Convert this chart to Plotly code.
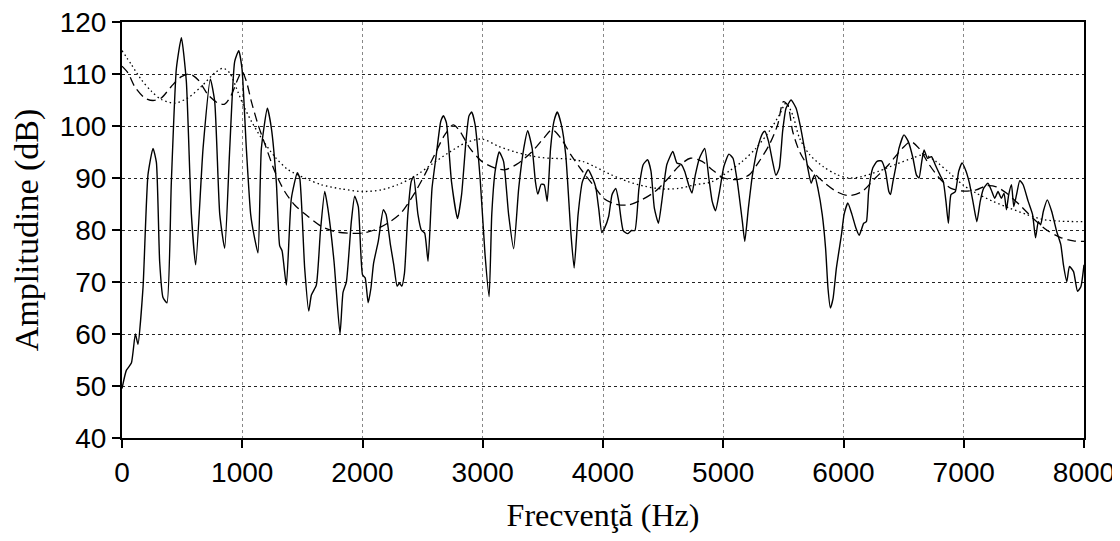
import plotly.graph_objects as go

# Spectrum (solid line)
spec_f = [0, 36, 78, 111, 133, 175, 216, 258, 286, 313, 341, 374, 410, 452, 494, 535, 577, 613,
          674, 735, 771, 813, 854, 896, 937, 971, 998, 1034, 1070, 1098, 1131, 1159, 1209, 1242,
          1284, 1311, 1331, 1367, 1408, 1458, 1478, 1519, 1553, 1575, 1616, 1650, 1686, 1713, 1763,
          1813, 1838, 1866, 1907, 1935, 1965, 2000, 2022, 2047, 2070, 2092, 2131, 2173, 2196, 2232,
          2260, 2288, 2307, 2327, 2349, 2377, 2405, 2425, 2461, 2489, 2517, 2545, 2578, 2614, 2651,
          2673, 2698, 2740, 2790, 2824, 2860, 2885, 2908, 2936, 2978, 3019, 3053, 3075, 3103, 3137,
          3173, 3215, 3257, 3299, 3341, 3374, 3411, 3438, 3458, 3486, 3511, 3536, 3564, 3592, 3620,
          3653, 3690, 3732, 3760, 3793, 3829, 3877, 3913, 3940, 3965, 3990, 4014, 4047, 4075, 4106,
          4131, 4168, 4204, 4237, 4265, 4299, 4335, 4371, 4399, 4427, 4461, 4489, 4531, 4581, 4614,
          4651, 4679, 4712, 4740, 4768, 4802, 4846, 4880, 4908, 4936, 4969, 5005, 5047, 5081, 5117,
          5159, 5179, 5209, 5243, 5285, 5327, 5346, 5377, 5410, 5438, 5466, 5494, 5522, 5564, 5606,
          5639, 5675, 5703, 5731, 5759, 5787, 5823, 5851, 5871, 5891, 5913, 5941, 5983, 6005, 6036,
          6070, 6103, 6131, 6168, 6190, 6209, 6243, 6279, 6316, 6349, 6377, 6391, 6411, 6433, 6461,
          6503, 6539, 6578, 6606, 6628, 6651, 6670, 6698, 6732, 6762, 6802, 6830, 6852, 6872, 6894,
          6930, 6958, 6986, 7019, 7047, 7081, 7109, 7137, 7165, 7201, 7229, 7257, 7285, 7313, 7335,
          7355, 7374, 7397, 7416, 7439, 7466, 7494, 7536, 7572, 7597, 7620, 7639, 7662, 7695, 7731,
          7773, 7807, 7829, 7857, 7879, 7913, 7946, 7974, 8000]
spec_db = [49.5, 53, 54.4, 60, 58, 69, 90.6, 95.7, 93, 74, 67, 66, 89, 111, 117, 108.6, 83, 73.3,
           95.7, 109, 104.7, 83, 76.5, 95.7, 112.4, 114.5, 111, 95.7, 83, 79, 75.6, 95.7, 103.4, 99.6,
           89, 77, 76, 69.4, 86, 91, 90, 72.7, 64.4, 67.5, 69.4, 79.7, 87.4, 84, 74,
           60, 68, 70, 81.6, 86.5, 84.5, 71.4, 70.8, 66, 68.8, 73.6, 77.8, 83.9, 83, 77.2,
           73.3, 69.2, 69.8, 69.2, 71.7, 83, 89.3, 90.3, 83, 80, 79.4, 74, 88, 94.5, 100.9,
           102, 100.6, 89.3, 82.2, 86.8, 97, 101.9, 102.7, 100.3, 90, 75.3, 67.2, 83, 91.3, 95,
           93.2, 83, 76.4, 88, 95.7, 99.1, 95.7, 89.3, 86.9, 88.8, 88.7, 85.5, 95.7, 100.9, 102.7,
           100.3, 94.5, 79.7, 72.7, 83, 89.3, 91.6, 90, 88.2, 84, 79.5, 80.4, 82.6, 86.8, 88,
           85.5, 79.9, 79.3, 79.9, 79.9, 88, 92.6, 93.5, 91.3, 84.2, 81.3, 85.5, 92.6, 95.1, 92.9,
           92.6, 91.3, 88.7, 87.1, 90.6, 93.8, 95.7, 90, 85.5, 83.7, 87.4, 92.2, 94.6, 93.8, 89.3,
           81.6, 77.8, 84.2, 90.6, 95.7, 98.6, 99, 97, 93.2, 90.5, 91.9, 99, 103.4, 105, 103.4,
           100.2, 95.7, 91.9, 89, 90.6, 88, 83, 76.5, 68.8, 65, 66.8, 72.7, 79.1, 83, 85.2,
           83, 80.4, 79, 81.3, 81.6, 87.4, 91.9, 93.2, 93.3, 91.3, 87.4, 86.8, 89.3, 91.9, 95.7,
           98.3, 97, 93.8, 90.6, 90, 93.2, 95.4, 93.8, 94.1, 92.6, 90.6, 89.3, 85.5, 81.3, 86.8,
           87.4, 91.3, 92.9, 91.3, 89, 84.9, 81.6, 85.5, 88, 89, 87.7, 86.1, 87.4, 86.1, 87.1,
           83.9, 86.8, 88.7, 84.5, 86.8, 89.5, 88.7, 85.5, 83, 78.5, 81.6, 81, 83.6, 85.8, 83.6,
           79.7, 77.2, 73.3, 70.1, 73, 72, 68.2, 69.1, 73.3]

# Envelope 1 (dashed line)
env1_f = [0, 50, 105, 189, 258, 327, 410, 494, 563, 632, 716, 799, 854, 910, 966, 998, 1034, 1076,
          1131, 1201, 1270, 1353, 1436, 1547, 1658, 1769, 1880, 2000, 2098, 2209, 2321, 2433, 2517,
          2600, 2684, 2754, 2810, 2894, 2992, 3103, 3187, 3299, 3411, 3508, 3578, 3648, 3732, 3829,
          3927, 4010, 4098, 4209, 4321, 4433, 4545, 4628, 4726, 4824, 4908, 5005, 5117, 5215, 5299,
          5383, 5452, 5500, 5536, 5578, 5634, 5718, 5830, 5941, 6042, 6154, 6265, 6377, 6489, 6559,
          6628, 6712, 6796, 6894, 6991, 7103, 7187, 7271, 7355, 7466, 7578, 7690, 7801, 7913, 8000]
env1_db = [111.5, 110.2, 107.6, 105.4, 104.9, 105.4, 107.6, 109.5, 110, 108.9, 106, 104.4, 104.2, 106,
           109.2, 110.5, 108.6, 104.7, 100.3, 95.7, 91.3, 87.4, 84.8, 82.6, 80.7, 79.7, 79.4, 79.4,
           80, 81.3, 83.3, 87.1, 90.6, 94.5, 98.3, 100.2, 99, 95.7, 93.2, 91.9, 91.6, 92.9, 95.1,
           97.7, 99.3, 97.7, 94.5, 91.3, 88.4, 86, 85, 84.8, 85.8, 87.4, 90, 92.2, 93.8, 93.2,
           91.6, 90, 89.7, 90.6, 93.2, 96.4, 100.2, 104.7, 104, 98.9, 95.1, 91.9, 89.3, 87.4, 86.6,
           87.4, 90, 92.6, 95.7, 97, 95.7, 92.6, 90, 88, 87.5, 87.7, 88.5, 88.3, 87.1, 84.8, 82.2,
           80, 78.6, 77.9, 77.8]

# Envelope 2 (dotted line)
env2_f = [0, 78, 161, 244, 327, 438, 549, 660, 771, 840, 896, 951, 1007, 1076, 1159, 1270, 1381,
          1519, 1658, 1825, 2000, 2154, 2293, 2433, 2573, 2712, 2852, 2992, 3131, 3271, 3411, 3550,
          3690, 3829, 3930, 4070, 4209, 4349, 4489, 4628, 4768, 4908, 5047, 5159, 5271, 5383, 5466,
          5522, 5578, 5634, 5718, 5830, 5941, 6042, 6154, 6293, 6433, 6572, 6670, 6768, 6880, 6991,
          7103, 7243, 7383, 7522, 7662, 7801, 8000]
env2_db = [114.5, 111.8, 108.9, 106.7, 105.1, 104.4, 105.4, 107.6, 110.2, 111.1, 110.2, 107.3, 104.1,
           100.9, 97.7, 94.1, 91.6, 90, 88.7, 87.9, 87.4, 87.7, 88.7, 90.3, 92.6, 94.8, 96.7, 97.5,
           96.1, 95, 94.2, 93.8, 93.7, 93.2, 92.2, 90.6, 89.3, 88.4, 87.9, 88, 88.7, 89.3, 91.3,
           93.2, 95.7, 99, 102.1, 104.4, 102.1, 97.7, 94.5, 92.2, 90.7, 90, 90.3, 91.3, 92.6, 93.8,
           94.5, 93.2, 91, 88.7, 87.1, 85.5, 84.2, 83, 82, 81.7, 81.6]

x_ticks = [0, 1000, 2000, 3000, 4000, 5000, 6000, 7000, 8000]
y_ticks = [40, 50, 60, 70, 80, 90, 100, 110, 120]

tick_font = dict(family="Liberation Sans, Arial, sans-serif", size=28, color="black")
title_font = "Liberation Serif, Times New Roman, serif"

fig = go.Figure()
fig.add_trace(go.Scatter(x=env2_f, y=env2_db, mode="lines",
                         line=dict(color="black", width=1.3, dash="1.5px,3px", shape="spline", smoothing=0.8)))
fig.add_trace(go.Scatter(x=env1_f, y=env1_db, mode="lines",
                         line=dict(color="black", width=1.3, dash="9px,5px", shape="spline", smoothing=0.8)))
fig.add_trace(go.Scatter(x=spec_f, y=spec_db, mode="lines",
                         line=dict(color="black", width=1.4, shape="spline", smoothing=0.5)))

fig.update_layout(
    width=1120, height=541,
    margin=dict(l=114, r=44, t=14, b=111, autoexpand=False),
    paper_bgcolor="white", plot_bgcolor="white",
    showlegend=False,
)
fig.update_xaxes(
    range=[0, 8000], tickvals=x_ticks, ticktext=[str(v) for v in x_ticks],
    showline=True, linecolor="black", linewidth=2, mirror=True,
    ticks="outside", ticklen=8, tickwidth=2, tickcolor="black",
    showgrid=True, gridcolor="#888888", gridwidth=1, griddash="dot",
    zeroline=False, tickfont=tick_font, automargin=False, ticklabeloverflow="allow",
    title=dict(text="Frecvenţă (Hz)", font=dict(family=title_font, size=32, color="black"), standoff=17),
)
fig.update_yaxes(
    range=[40, 120], tickvals=y_ticks, ticktext=[str(v) for v in y_ticks],
    showline=True, linecolor="black", linewidth=2, mirror=True,
    ticks="outside", ticklen=8, tickwidth=2, tickcolor="black",
    showgrid=True, gridcolor="#222222", gridwidth=1, griddash="dot",
    zeroline=False, tickfont=tick_font, automargin=False, ticklabeloverflow="allow",
    title=dict(text="Amplitudine (dB)", font=dict(family=title_font, size=34, color="black"), standoff=22),
)

fig.write_html("out.html")
